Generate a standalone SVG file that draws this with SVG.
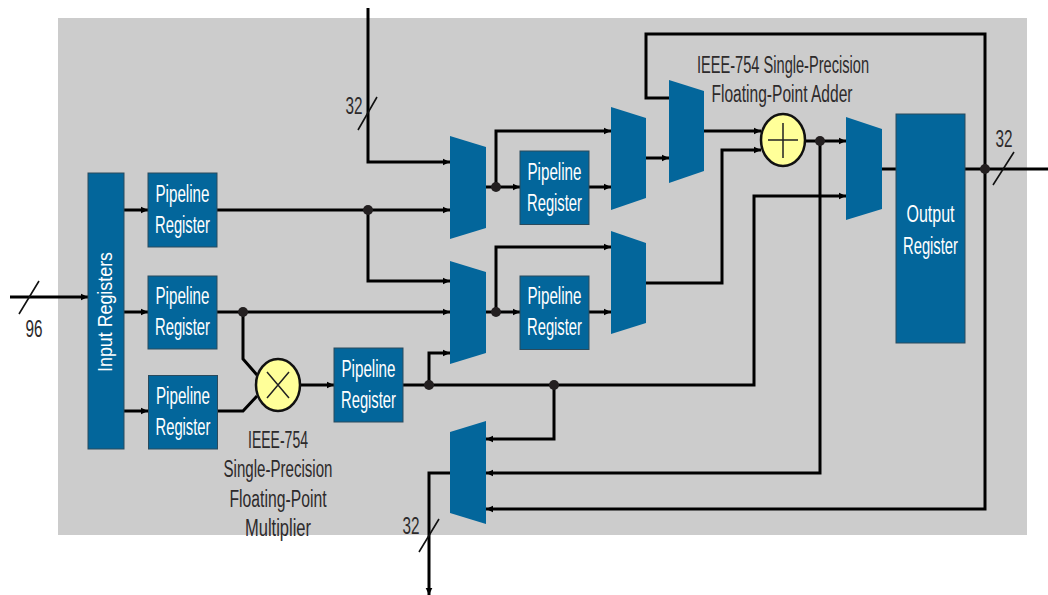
<svg xmlns="http://www.w3.org/2000/svg" width="1048" height="595" viewBox="0 0 1048 595">
<style>
.bl{fill:#03669b;stroke:#2a4a5c;stroke-width:1}
.mx{fill:#03669b}
.op{fill:#ffff99;stroke:#111;stroke-width:2.5}
.g{fill:none;stroke:#222;stroke-width:1.5}
.w{fill:none;stroke:#000;stroke-width:3;stroke-linejoin:miter}
.a{marker-end:url(#ah)}
.s{fill:none;stroke:#111;stroke-width:1.6}
text{font-family:"Liberation Sans",Arial,sans-serif;font-size:23.5px;text-anchor:middle}
.t{fill:#fff}
.l{fill:#2d2a2b}
</style>
<defs>
<marker id="ah" markerUnits="userSpaceOnUse" markerWidth="9" markerHeight="9" refX="8" refY="4.5" orient="auto"><path d="M1 1.2L8 4.5L1 7.8z" fill="#000"/></marker>
</defs>
<rect x="58" y="18" width="969" height="517" fill="#cccccc"/>
<g id="connectors">
<path class="w a" d="M368 8V162H450"/>
<path class="w a" d="M217 210H450"/>
<path class="w a" d="M368 210V281H450"/>
<path class="w a" d="M217 312H450"/>
<path class="w" d="M243 312V359L257 375"/>
<path class="w" d="M217 411H243L257 396"/>
<path class="w a" d="M300 385H334"/>
<path class="w a" d="M403 385H754V196H846"/>
<path class="w a" d="M429 385V353H450"/>
<path class="w a" d="M554 385V439H486"/>
<path class="w a" d="M820 141V473H486"/>
<path class="w a" d="M985 169V34H646V98H669M985 169V509H486"/>
<path class="w" d="M965 169H1048"/>
<path class="w a" d="M486 187H520"/>
<path class="w a" d="M496 187V131H611"/>
<path class="w a" d="M589 187H611"/>
<path class="w a" d="M646 158H669"/>
<path class="w a" d="M704 131H761"/>
<path class="w a" d="M486 312H520"/>
<path class="w a" d="M496 312V247H611"/>
<path class="w a" d="M589 312H611"/>
<path class="w a" d="M646 283H722V150H761"/>
<path class="w a" d="M805 141H846"/>
<path class="w" d="M882 169H896"/>
<path class="w a" d="M10 297H88"/>
<path class="w a" d="M124 210H148"/>
<path class="w a" d="M124 312H148"/>
<path class="w a" d="M124 411H148"/>
<path class="w a" d="M450 473H429V595"/>
<path class="s" d="M19 314L39 281M358 130L377 97M993 185L1014 152M419 552L439 519"/>
<g fill="#231f20">
<circle cx="368" cy="210" r="5"/><circle cx="243" cy="312" r="5"/><circle cx="429" cy="385" r="5"/><circle cx="554" cy="385" r="5"/><circle cx="496" cy="187" r="5"/><circle cx="496" cy="312" r="5"/><circle cx="820" cy="141" r="5"/><circle cx="985" cy="169" r="5"/>
</g>
</g>
<g id="input-registers"><rect class="bl" x="88" y="173" width="36" height="276"/><text class="t" style="font-size:21px" transform="translate(112 312) rotate(-90)" textLength="120" lengthAdjust="spacingAndGlyphs">Input Registers</text></g>
<g id="pipeline-1"><rect class="bl" x="148" y="173" width="69" height="74"/><text class="t" x="182.500" y="202" textLength="54" lengthAdjust="spacingAndGlyphs">Pipeline</text><text class="t" x="182.500" y="233" textLength="55" lengthAdjust="spacingAndGlyphs">Register</text></g>
<g id="pipeline-2"><rect class="bl" x="148" y="276" width="69" height="73"/><text class="t" x="182.500" y="304" textLength="54" lengthAdjust="spacingAndGlyphs">Pipeline</text><text class="t" x="182.500" y="335" textLength="55" lengthAdjust="spacingAndGlyphs">Register</text></g>
<g id="pipeline-3"><rect class="bl" x="148.500" y="375.500" width="69" height="73.500"/><text class="t" x="183" y="404" textLength="54" lengthAdjust="spacingAndGlyphs">Pipeline</text><text class="t" x="183" y="435" textLength="55" lengthAdjust="spacingAndGlyphs">Register</text></g>
<g id="pipeline-4"><rect class="bl" x="334" y="348" width="69" height="74"/><text class="t" x="368.500" y="377" textLength="54" lengthAdjust="spacingAndGlyphs">Pipeline</text><text class="t" x="368.500" y="408" textLength="55" lengthAdjust="spacingAndGlyphs">Register</text></g>
<g id="pipeline-5"><rect class="bl" x="520" y="151" width="69" height="73.500"/><text class="t" x="554.500" y="180" textLength="54" lengthAdjust="spacingAndGlyphs">Pipeline</text><text class="t" x="554.500" y="211" textLength="55" lengthAdjust="spacingAndGlyphs">Register</text></g>
<g id="pipeline-6"><rect class="bl" x="520" y="276" width="69" height="73.500"/><text class="t" x="554.500" y="304" textLength="54" lengthAdjust="spacingAndGlyphs">Pipeline</text><text class="t" x="554.500" y="335" textLength="55" lengthAdjust="spacingAndGlyphs">Register</text></g>
<g id="output-register"><rect class="bl" x="896" y="114" width="69" height="229"/><text class="t" x="930.500" y="222" textLength="48" lengthAdjust="spacingAndGlyphs">Output</text><text class="t" x="930.500" y="254" textLength="55" lengthAdjust="spacingAndGlyphs">Register</text></g>
<g id="mux-1"><path class="mx" d="M450 136L486 147V228L450 239z"/></g>
<g id="mux-2"><path class="mx" d="M450 261L486 272V353L450 364z"/></g>
<g id="mux-3"><path class="mx" d="M611 107L646 118V198L611 210z"/></g>
<g id="mux-4"><path class="mx" d="M611 231L646 243V323L611 334z"/></g>
<g id="mux-5"><path class="mx" d="M669 80L704 91V171L669 183z"/></g>
<g id="mux-6"><path class="mx" d="M846 117L882 129V209L846 220z"/></g>
<g id="mux-7"><path class="mx" d="M450 432L486 421V524L450 513z"/></g>
<g id="multiplier"><ellipse class="op" cx="278" cy="385" rx="22" ry="26"/><path class="g" d="M267 372L289 398M289 372L267 398"/></g>
<g id="adder"><ellipse class="op" cx="783" cy="140" rx="22" ry="26"/><path class="g" d="M783 123V158M768 140H798"/></g>
<g id="labels">
<text class="l" x="34" y="337" textLength="17" lengthAdjust="spacingAndGlyphs">96</text>
<text class="l" x="354" y="114" textLength="17" lengthAdjust="spacingAndGlyphs">32</text>
<text class="l" x="1004" y="147" textLength="17" lengthAdjust="spacingAndGlyphs">32</text>
<text class="l" x="411" y="534" textLength="17" lengthAdjust="spacingAndGlyphs">32</text>
<text class="l" x="278" y="448" textLength="60" lengthAdjust="spacingAndGlyphs">IEEE-754</text>
<text class="l" x="278" y="477" textLength="109" lengthAdjust="spacingAndGlyphs">Single-Precision</text>
<text class="l" x="278" y="507" textLength="97" lengthAdjust="spacingAndGlyphs">Floating-Point</text>
<text class="l" x="278" y="536" textLength="66" lengthAdjust="spacingAndGlyphs">Multiplier</text>
<text class="l" x="783" y="73" textLength="172" lengthAdjust="spacingAndGlyphs">IEEE-754 Single-Precision</text>
<text class="l" x="782" y="102" textLength="141" lengthAdjust="spacingAndGlyphs">Floating-Point Adder</text>
</g>
</svg>
